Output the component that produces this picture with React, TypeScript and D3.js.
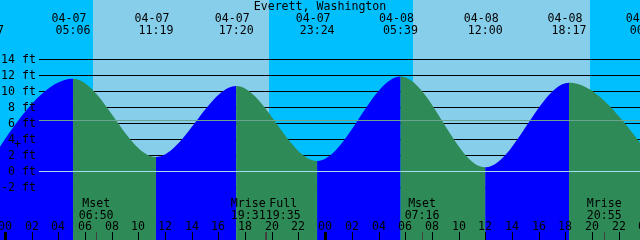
import React from "react";
import * as d3 from "d3";

const WIDTH = 640;
const HEIGHT = 240;
const FONT = "'DejaVu Sans Mono', monospace";
const FONT_SIZE = 11.6;

const stationName = "Everett, Washington";

// Tide extremes (local time) and heights in feet
const tideTimes = [
  "2020-04-06T22:37",
  "2020-04-07T05:06",
  "2020-04-07T11:19",
  "2020-04-07T17:20",
  "2020-04-07T23:24",
  "2020-04-08T05:39",
  "2020-04-08T12:00",
  "2020-04-08T18:17",
  "2020-04-09T00:08",
];
const tideHeights = [0.5, 11.6, 1.8, 10.7, 1.3, 11.9, 0.5, 11.1, 2.4];
const tideKinds = ["low", "high", "low", "high", "low", "high", "low", "high", "low"];

// Sun events
const sunTimes = ["2020-04-07T06:36", "2020-04-07T19:47", "2020-04-08T06:34", "2020-04-08T19:51"];
const sunKinds = ["rise", "set", "rise", "set"];

// Moon events
const moonTimes = ["2020-04-07T06:50", "2020-04-07T19:31", "2020-04-07T19:35", "2020-04-08T07:16", "2020-04-08T20:55"];
const moonLabels = ["Mset", "Mrise", "Full", "Mset", "Mrise"];

// Depth axis
const depthTicks = [-2, 0, 2, 4, 6, 8, 10, 12, 14];
const depthUnit = "ft";
const meanSeaLevel = 6.4;
const datumLevel = 0;

const viewStart = "2020-04-06T23:37:30";
const viewEnd = "2020-04-08T23:36:00";

const COLORS = {
  day: "#87CEEB",
  night: "#00BFFF",
  rising: "#0000FF",
  falling: "#2E8B57",
  msl: "#6AA390",
  datum: "#A8DCEB",
  text: "#000000",
  grid: "#000000",
  moonTick: "#404040",
};

const parse = d3.utcParse("%Y-%m-%dT%H:%M");
const parseS = d3.utcParse("%Y-%m-%dT%H:%M:%S");
const fmtDate = d3.utcFormat("%m-%d");
const fmtTime = d3.utcFormat("%H:%M");
const fmtHour = d3.utcFormat("%H");

export default function App() {
  const x = d3
    .scaleUtc()
    .domain([parseS(viewStart) as Date, parseS(viewEnd) as Date])
    .range([0, WIDTH]);
  const y = d3.scaleLinear().domain([0, 14]).range([171.3, 59.7]);
  const row = (v: number) => Math.floor(y(v)) + 0.5;

  const tides = tideTimes.map((t, i) => ({
    date: parse(t) as Date,
    h: tideHeights[i],
    kind: tideKinds[i],
  }));

  const area = d3
    .area<any>()
    .x((d) => x(d.date))
    .y0(HEIGHT)
    .y1((d) => y(d.h))
    .curve(d3.curveMonotoneX);
  const areaPath = area(tides) || "";

  // day/night segments
  const sun = sunTimes.map((t, i) => ({ date: parse(t) as Date, kind: sunKinds[i] }));
  const [d0, d1] = x.domain();
  const bounds = [d0, ...sun.map((s) => s.date), d1];
  const skySegs = bounds.slice(0, -1).map((b, i) => {
    let night: boolean;
    if (i < sun.length) night = sun[i].kind === "rise";
    else night = sun[sun.length - 1].kind === "set";
    return { x0: x(b), x1: x(bounds[i + 1]), color: night ? COLORS.night : COLORS.day };
  });

  // water segments
  const waterSegs = tides.slice(0, -1).map((t, i) => ({
    x0: x(t.date),
    x1: x(tides[i + 1].date),
    color: tides[i + 1].kind === "high" ? COLORS.rising : COLORS.falling,
  }));

  // hour ticks
  const hours = d3.utcHour.every(2)!.range(d0, d3.utcHour.offset(d1, 2));

  // moon labels with overlap resolution
  const moon = moonTimes.map((t, i) => {
    const date = parse(t) as Date;
    return { date, label: moonLabels[i], time: fmtTime(date), px: x(date), cx: x(date) };
  });
  const LABEL_W = 35;
  for (let i = 1; i < moon.length; i++) {
    if (moon[i].cx - moon[i - 1].cx < LABEL_W) {
      const mid = (moon[i].cx + moon[i - 1].cx) / 2;
      moon[i - 1].cx = mid - LABEL_W / 2;
      moon[i].cx = mid + LABEL_W / 2;
    }
  }

  const textProps = {
    fontFamily: FONT,
    fontSize: FONT_SIZE,
    fill: COLORS.text,
  };

  return (
    <svg
      width={WIDTH}
      height={HEIGHT}
      style={{ position: "fixed", left: 0, top: 0, display: "block" }}
      shapeRendering="crispEdges"
    >
      <defs>
        <clipPath id="water">
          <path d={areaPath} />
        </clipPath>
      </defs>
      {skySegs.map((s, i) => (
        <rect key={"sky" + i} x={s.x0} y={0} width={s.x1 - s.x0} height={HEIGHT} fill={s.color} />
      ))}
      {depthTicks.map((t) => (
        <line key={"g" + t} x1={39} x2={WIDTH} y1={row(t)} y2={row(t)} stroke={COLORS.grid} strokeWidth={1} />
      ))}
      <g clipPath="url(#water)" shapeRendering="auto">
        {waterSegs.map((s, i) => (
          <rect key={"w" + i} x={s.x0} y={0} width={s.x1 - s.x0} height={HEIGHT} fill={s.color} />
        ))}
      </g>
      <line x1={39} x2={WIDTH} y1={row(meanSeaLevel)} y2={row(meanSeaLevel)} stroke={COLORS.msl} strokeWidth={1} />
      <line x1={39} x2={WIDTH} y1={row(datumLevel)} y2={row(datumLevel)} stroke={COLORS.datum} strokeWidth={1} />

      {depthTicks.map((t) => (
        <text key={"yl" + t} x={36} y={Math.floor(y(t)) + 4} textAnchor="end" {...textProps}>
          {`${t} ${depthUnit}`}
        </text>
      ))}
      <text x={17.5} y={148} textAnchor="middle" {...textProps}>
        +
      </text>

      <text x={WIDTH / 2} y={10} textAnchor="middle" {...textProps}>
        {stationName}
      </text>
      {tides.map((t, i) => (
        <g key={"tl" + i}>
          <text x={x(t.date) - 4} y={21.8} textAnchor="middle" {...textProps}>
            {fmtDate(t.date)}
          </text>
          <text x={x(t.date)} y={33.5} textAnchor="middle" {...textProps}>
            {fmtTime(t.date)}
          </text>
        </g>
      ))}

      {moon.map((m, i) => (
        <g key={"m" + i}>
          <line x1={Math.round(m.px) + 0.5} x2={Math.round(m.px) + 0.5} y1={232} y2={HEIGHT} stroke={COLORS.moonTick} />
          <text x={m.cx} y={206.5} textAnchor="middle" {...textProps}>
            {m.label}
          </text>
          <text x={m.cx} y={218.5} textAnchor="middle" {...textProps}>
            {m.time}
          </text>
        </g>
      ))}
      {hours.map((h, i) => {
        const px = Math.round(x(h));
        const midnight = h.getUTCHours() === 0;
        return (
          <g key={"h" + i}>
            <rect x={midnight ? px - 1 : px} y={232} width={midnight ? 3 : 1} height={HEIGHT - 232} fill={COLORS.grid} />
            <text x={px} y={230} textAnchor="middle" {...textProps}>
              {fmtHour(h)}
            </text>
          </g>
        );
      })}
    </svg>
  );
}
